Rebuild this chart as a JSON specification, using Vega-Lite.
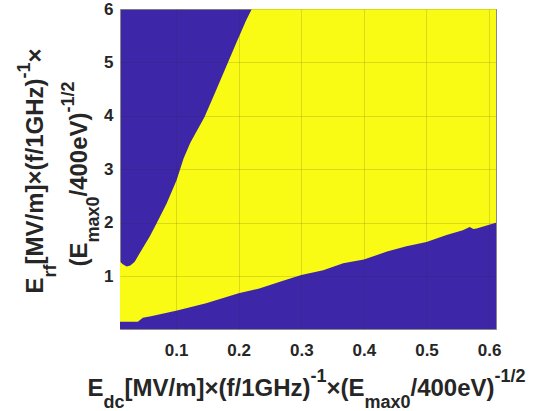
{
  "$schema": "https://vega.github.io/schema/vega-lite/v6.json",
  "width": 376,
  "height": 320,
  "autosize": "none",
  "padding": {"left": 120, "top": 9, "right": 48, "bottom": 82},
  "background": "white",
  "datasets": {
    "upper": [
      {"x": 0.0105, "y": 1.27}, {"x": 0.015, "y": 1.22}, {"x": 0.021, "y": 1.18},
      {"x": 0.027, "y": 1.2}, {"x": 0.034, "y": 1.27}, {"x": 0.045, "y": 1.49},
      {"x": 0.058, "y": 1.74}, {"x": 0.069, "y": 1.99}, {"x": 0.085, "y": 2.36},
      {"x": 0.101, "y": 2.8}, {"x": 0.112, "y": 3.2}, {"x": 0.123, "y": 3.5},
      {"x": 0.1455, "y": 3.98}, {"x": 0.164, "y": 4.48}, {"x": 0.18, "y": 4.92},
      {"x": 0.196, "y": 5.36}, {"x": 0.212, "y": 5.79}, {"x": 0.221, "y": 6.0},
      {"x": 0.611, "y": 6.0}
    ],
    "lower": [
      {"x": 0.0105, "y": 0.146}, {"x": 0.039, "y": 0.146}, {"x": 0.047, "y": 0.22},
      {"x": 0.06, "y": 0.25}, {"x": 0.08, "y": 0.3}, {"x": 0.1, "y": 0.35},
      {"x": 0.148, "y": 0.49}, {"x": 0.2, "y": 0.68}, {"x": 0.233, "y": 0.77},
      {"x": 0.266, "y": 0.895}, {"x": 0.3, "y": 1.02}, {"x": 0.335, "y": 1.11},
      {"x": 0.367, "y": 1.24}, {"x": 0.4, "y": 1.31}, {"x": 0.437, "y": 1.46},
      {"x": 0.468, "y": 1.56}, {"x": 0.5, "y": 1.64}, {"x": 0.532, "y": 1.77},
      {"x": 0.558, "y": 1.86}, {"x": 0.569, "y": 1.92}, {"x": 0.575, "y": 1.88},
      {"x": 0.58, "y": 1.89}, {"x": 0.6, "y": 1.96}, {"x": 0.611, "y": 2.0}
    ]
  },
  "resolve": {"axis": {"x": "independent", "y": "independent"}},
  "layer": [
    {
      "data": {"name": "upper"},
      "mark": {"type": "area", "color": "#F9FB15", "clip": true, "opacity": 1},
      "encoding": {
        "x": {"field": "x", "type": "quantitative",
          "scale": {"domain": [0.0105, 0.611], "nice": false, "zero": false},
          "axis": {"orient": "bottom", "title": "E", "titleX": -33, "titleY": 66,
            "labels": true, "grid": true, "zindex": 1, "values": [0.1, 0.2, 0.3, 0.4, 0.5, 0.6],
            "format": ".1f", "labelPadding": 13, "labelAlign": "center"}},
        "y": {"field": "y", "type": "quantitative",
          "scale": {"domain": [0.01, 6], "nice": false, "zero": false},
          "axis": {"orient": "left", "title": "E", "titleX": -78, "titleY": 284,
            "labels": true, "grid": true, "zindex": 1, "values": [1, 2, 3, 4, 5, 6],
            "format": "d", "labelPadding": 7}}
      }
    },
    {
      "data": {"name": "lower"},
      "mark": {"type": "area", "color": "#3E26A8", "clip": true, "opacity": 1},
      "encoding": {
        "x": {"field": "x", "type": "quantitative",
          "scale": {"domain": [0.0105, 0.611], "nice": false, "zero": false},
          "axis": {"orient": "bottom", "title": "dc", "titleX": -17, "titleY": 78, "titleFontSize": 18}},
        "y": {"field": "y", "type": "quantitative",
          "scale": {"domain": [0.01, 6], "nice": false, "zero": false},
          "axis": {"orient": "left", "title": "rf", "titleX": -65, "titleY": 268, "titleFontSize": 18}}
      }
    },
    {
      "data": {"name": "upper"},
      "mark": {"type": "point", "opacity": 0},
      "encoding": {
        "x": {"field": "x", "type": "quantitative",
          "scale": {"domain": [0.0105, 0.611], "nice": false, "zero": false},
          "axis": {"orient": "bottom", "title": "[MV/m]×(f/1GHz)", "titleX": 4, "titleY": 66}},
        "y": {"field": "y", "type": "quantitative",
          "scale": {"domain": [0.01, 6], "nice": false, "zero": false},
          "axis": {"orient": "left", "title": "[MV/m]×(f/1GHz)", "titleX": -78, "titleY": 255}}
      }
    },
    {
      "data": {"name": "upper"},
      "mark": {"type": "point", "opacity": 0},
      "encoding": {
        "x": {"field": "x", "type": "quantitative",
          "scale": {"domain": [0.0105, 0.611], "nice": false, "zero": false},
          "axis": {"orient": "bottom", "title": "-1", "titleX": 190, "titleY": 52, "titleFontSize": 18}},
        "y": {"field": "y", "type": "quantitative",
          "scale": {"domain": [0.01, 6], "nice": false, "zero": false},
          "axis": {"orient": "left", "title": "-1", "titleX": -91, "titleY": 69, "titleFontSize": 18}}
      }
    },
    {
      "data": {"name": "upper"},
      "mark": {"type": "point", "opacity": 0},
      "encoding": {
        "x": {"field": "x", "type": "quantitative",
          "scale": {"domain": [0.0105, 0.611], "nice": false, "zero": false},
          "axis": {"orient": "bottom", "title": "×(E", "titleX": 206, "titleY": 66}},
        "y": {"field": "y", "type": "quantitative",
          "scale": {"domain": [0.01, 6], "nice": false, "zero": false},
          "axis": {"orient": "left", "title": "×", "titleX": -78, "titleY": 53}}
      }
    },
    {
      "data": {"name": "upper"},
      "mark": {"type": "point", "opacity": 0},
      "encoding": {
        "x": {"field": "x", "type": "quantitative",
          "scale": {"domain": [0.0105, 0.611], "nice": false, "zero": false},
          "axis": {"orient": "bottom", "title": "max0", "titleX": 244, "titleY": 78, "titleFontSize": 18}},
        "y": {"field": "y", "type": "quantitative",
          "scale": {"domain": [0.01, 6], "nice": false, "zero": false},
          "axis": {"orient": "left", "title": "(E", "titleX": -34, "titleY": 257}}
      }
    },
    {
      "data": {"name": "upper"},
      "mark": {"type": "point", "opacity": 0},
      "encoding": {
        "x": {"field": "x", "type": "quantitative",
          "scale": {"domain": [0.0105, 0.611], "nice": false, "zero": false},
          "axis": {"orient": "bottom", "title": "/400eV)", "titleX": 290, "titleY": 66}},
        "y": {"field": "y", "type": "quantitative",
          "scale": {"domain": [0.01, 6], "nice": false, "zero": false},
          "axis": {"orient": "left", "title": "max0", "titleX": -22, "titleY": 233, "titleFontSize": 18}}
      }
    },
    {
      "data": {"name": "upper"},
      "mark": {"type": "point", "opacity": 0},
      "encoding": {
        "x": {"field": "x", "type": "quantitative",
          "scale": {"domain": [0.0105, 0.611], "nice": false, "zero": false},
          "axis": {"orient": "bottom", "title": "-1/2", "titleX": 374, "titleY": 52, "titleFontSize": 18}},
        "y": {"field": "y", "type": "quantitative",
          "scale": {"domain": [0.01, 6], "nice": false, "zero": false},
          "axis": {"orient": "left", "title": "/400eV)", "titleX": -34, "titleY": 187}}
      }
    },
    {
      "data": {"name": "upper"},
      "mark": {"type": "point", "opacity": 0},
      "encoding": {
        "x": {"field": "x", "type": "quantitative",
          "scale": {"domain": [0.0105, 0.611], "nice": false, "zero": false},
          "axis": null},
        "y": {"field": "y", "type": "quantitative",
          "scale": {"domain": [0.01, 6], "nice": false, "zero": false},
          "axis": {"orient": "left", "title": "-1/2", "titleX": -47, "titleY": 103, "titleFontSize": 18}}
      }
    }
  ],
  "config": {
    "view": {"fill": "#3E26A8", "stroke": "#8a8a8a", "strokeWidth": 1},
    "axis": {
      "labels": false, "ticks": false, "domain": false, "grid": false,
      "gridColor": "#262626", "gridOpacity": 0.15, "gridWidth": 1,
      "labelFont": "Liberation Sans", "labelFontWeight": "bold", "labelFontSize": 17, "labelColor": "#262626",
      "titleFont": "Liberation Sans", "titleFontWeight": "bold", "titleFontSize": 24, "titleColor": "#262626",
      "titleAlign": "left", "titleBaseline": "alphabetic", "titlePadding": 0
    },
    "axisY": {"titleAngle": 270}
  }
}
